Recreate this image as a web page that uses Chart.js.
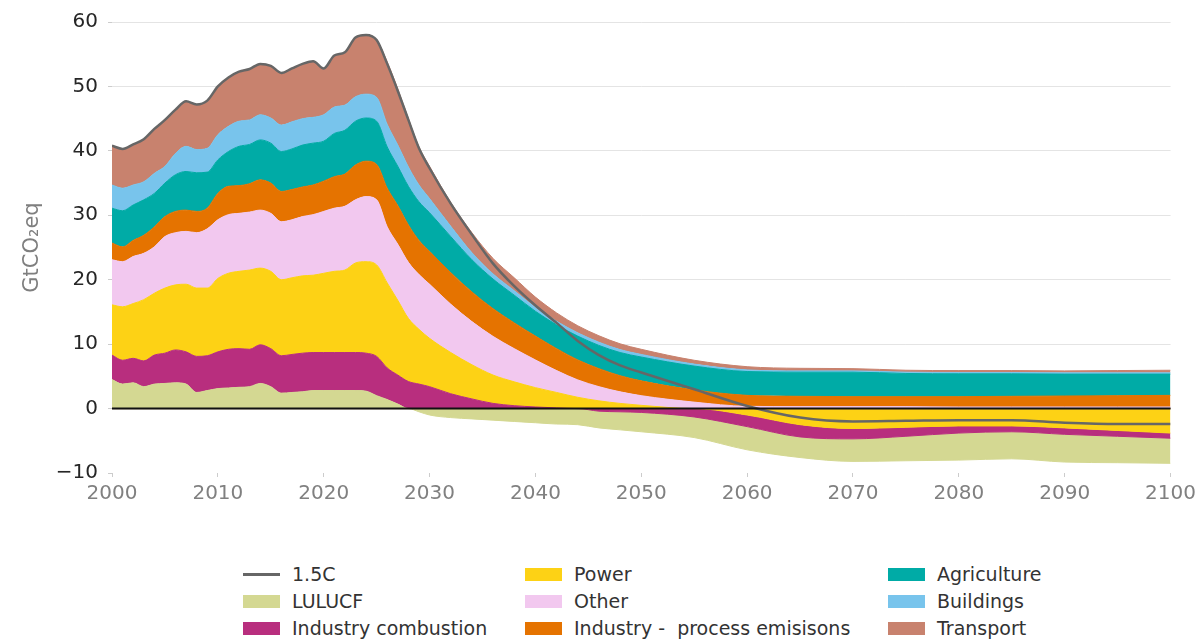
<!DOCTYPE html>
<html lang="en">
<head>
    <meta charset="UTF-8">
    <title>Emissions by sector</title>
    <style>
        body {
            margin: 0;
            background: #ffffff;
            font-family: "DejaVu Sans", sans-serif;
        }

        .wrap {
            position: relative;
            width: 1201px;
            height: 639px;
        }

        #chart {
            position: absolute;
            left: 0;
            top: 0;
        }

        .item {
            position: absolute;
            display: flex;
            align-items: center;
            height: 22px;
            font-size: 19px;
            color: #333333;
            white-space: pre;
        }

        .swatch {
            width: 37px;
            height: 13px;
            margin-right: 12px;
        }

        .line-swatch {
            width: 37px;
            height: 3px;
            margin-right: 12px;
            background: #666666;
        }
    </style>
</head>
<body>
    <div class="wrap">
        <canvas id="chart" width="1201" height="520"></canvas>
        <div id="legend"></div>
    </div>

    <script src="https://cdn.jsdelivr.net/npm/chart.js"></script>
    <script>
        // years: annual to 2030, then coarser
        const years = [
            2000, 2001, 2002, 2003, 2004, 2005, 2006, 2007, 2008, 2009,
            2010, 2011, 2012, 2013, 2014, 2015, 2016, 2017, 2018, 2019,
            2020, 2021, 2022, 2023, 2024, 2025, 2026, 2027, 2028, 2029, 2030,
            2032, 2034, 2036, 2038, 2040, 2042, 2044, 2046, 2048, 2050,
            2055, 2060, 2065, 2070, 2075, 2080, 2085, 2090, 2095, 2100
        ];

        // GtCO2eq per sector
        const lulucf = [
            4.5, 3.8, 4.0, 3.4, 3.8, 3.9, 4.0, 3.8, 2.5, 2.8,
            3.1, 3.2, 3.3, 3.4, 3.9, 3.4, 2.4, 2.5, 2.6, 2.8,
            2.8, 2.8, 2.8, 2.8, 2.7, 2.0, 1.4, 0.7, 0.0, -0.5, -1.0,
            -1.4, -1.6, -1.8, -2.0, -2.2, -2.4, -2.5, -2.6, -2.8, -3.0,
            -3.2, -3.6, -3.2, -3.5, -3.8, -4.2, -4.2, -4.3, -4.1, -3.9
        ];
        const indComb = [
            3.8, 3.7, 3.8, 4.0, 4.5, 4.7, 5.1, 5.0, 5.6, 5.4,
            5.7, 6.0, 6.0, 5.8, 6.0, 5.9, 5.8, 5.9, 6.0, 5.9,
            5.9, 5.9, 5.9, 5.9, 5.9, 6.1, 4.9, 4.5, 4.2, 3.8, 3.4,
            2.3, 1.5, 0.8, 0.45, 0.25, 0.1, 0.0, -0.4, -0.5, -0.6,
            -1.3, -1.8, -1.9, -1.6, -1.4, -1.1, -0.9, -1.0, -0.9, -0.8
        ];
        const power = [
            7.8, 8.3, 8.5, 9.5, 9.6, 10.1, 10.1, 10.5, 10.6, 10.5,
            11.4, 11.8, 12.0, 12.3, 11.9, 12.0, 11.8, 11.9, 12.0, 12.0,
            12.3, 12.6, 12.8, 13.9, 14.2, 14.2, 13.2, 11.6, 9.8, 8.5, 7.5,
            6.4, 5.3, 4.4, 3.7, 3.0, 2.4, 1.75, 1.2, 0.8, 0.5,
            0.0, -1.0, -2.5, -3.1, -2.9, -2.7, -2.7, -3.0, -3.4, -3.8
        ];
        const other = [
            7.0, 7.0, 7.3, 7.2, 7.2, 8.0, 8.1, 8.2, 8.6, 9.2,
            9.1, 9.1, 9.0, 9.0, 9.0, 9.0, 9.0, 9.0, 9.2, 9.4,
            9.6, 9.8, 9.9, 9.8, 10.1, 10.1, 8.7, 8.7, 8.7, 8.5, 8.4,
            7.5, 6.7, 6.0, 5.15, 4.3, 3.4, 2.7, 2.2, 1.8, 1.5,
            1.0, 0.35, 0.3, 0.3, 0.3, 0.25, 0.25, 0.25, 0.25, 0.25
        ];
        const indProc = [
            2.6, 2.3, 2.5, 2.8, 3.1, 3.1, 3.3, 3.3, 3.3, 3.2,
            4.1, 4.4, 4.3, 4.4, 4.7, 4.7, 4.7, 4.7, 4.6, 4.6,
            4.7, 4.9, 5.0, 5.4, 5.5, 5.5, 6.0, 6.0, 5.8, 5.3, 5.1,
            4.9, 4.6, 4.3, 4.0, 3.7, 3.4, 3.1, 2.8, 2.5, 2.3,
            1.9, 1.7, 1.6, 1.55, 1.55, 1.6, 1.65, 1.7, 1.75, 1.8
        ];
        const agriculture = [
            5.4, 5.6, 5.5, 5.5, 5.2, 5.2, 5.7, 6.0, 6.0, 5.6,
            5.2, 5.4, 6.1, 6.1, 6.2, 6.2, 6.2, 6.3, 6.5, 6.5,
            6.2, 6.7, 6.8, 6.8, 6.7, 6.7, 6.4, 6.1, 6.0, 6.0, 6.0,
            5.6, 5.0, 4.6, 4.3, 3.85, 3.7, 3.7, 3.6, 3.6, 3.7,
            3.7, 3.7, 3.75, 3.8, 3.6, 3.55, 3.5, 3.4, 3.35, 3.3
        ];
        const buildings = [
            3.6, 3.5, 3.1, 2.8, 3.1, 2.6, 3.3, 3.9, 3.6, 3.7,
            3.9, 3.9, 3.9, 3.8, 3.9, 3.9, 4.1, 4.2, 4.1, 4.0,
            4.1, 4.1, 3.9, 3.8, 3.7, 3.7, 3.5, 3.3, 3.0, 2.6, 2.2,
            1.6, 1.1, 0.8, 0.7, 0.6, 0.55, 0.5, 0.5, 0.45, 0.4,
            0.3, 0.25, 0.2, 0.2, 0.2, 0.2, 0.2, 0.2, 0.2, 0.2
        ];
        const transport = [
            6.1, 6.1, 6.3, 6.6, 6.9, 7.2, 6.8, 7.0, 7.0, 7.4,
            7.5, 7.6, 7.7, 7.9, 7.9, 8.1, 8.1, 8.3, 8.5, 8.7,
            7.2, 8.0, 8.2, 9.2, 9.2, 8.9, 9.7, 8.7, 7.5, 5.9, 5.0,
            3.7, 3.1, 2.4, 2.0, 1.6, 1.3, 1.1, 1.0, 0.9, 0.8,
            0.6, 0.5, 0.4, 0.35, 0.3, 0.3, 0.3, 0.3, 0.35, 0.4
        ];
        const pathway15 = [
            40.8, 40.3, 41.0, 41.8, 43.4, 44.8, 46.4, 47.7, 47.2, 47.8,
            50.0, 51.4, 52.3, 52.7, 53.5, 53.2, 52.1, 52.8, 53.5, 53.9,
            52.8, 54.8, 55.3, 57.6, 58.0, 57.2, 53.5, 49.3, 44.8, 40.4, 37.3,
            31.8, 27.0, 22.5, 19.0, 16.0, 13.3, 10.5, 8.3, 6.7, 5.6,
            3.0, 0.4, -1.4, -2.0, -1.9, -1.8, -1.8, -2.2, -2.4, -2.4
        ];

        const sectorNames = ['LULUCF', 'Industry combustion', 'Power', 'Other',
            'Industry -  process emisisons', 'Agriculture', 'Buildings', 'Transport'];
        const sectorColors = ['#d4d892', '#b82e7e', '#fdd215', '#f2c8ef',
            '#e57300', '#00aba6', '#78c4ec', '#c8826e'];
        const series = [lulucf, indComb, power, other, indProc, agriculture, buildings, transport];

        // positive parts stack upward, negative parts stack downward
        const datasets = [];
        let posBase = years.map(() => 0);
        series.forEach((vals, i) => {
            const top = vals.map((v, j) => posBase[j] + Math.max(v, 0));
            datasets.push({
                label: sectorNames[i],
                data: years.map((x, j) => ({ x: x, y: top[j] })),
                backgroundColor: sectorColors[i],
                borderColor: sectorColors[i],
                borderWidth: 1,
                fill: i === 0 ? 'origin' : datasets.length - 1,
                order: 1
            });
            posBase = top;
        });

        // below zero: power nearest the axis, then industry combustion, then LULUCF
        let negBase = years.map(() => 0);
        [2, 1, 0].forEach((si, k) => {
            const bottom = series[si].map((v, j) => negBase[j] + Math.min(v, 0));
            datasets.push({
                label: sectorNames[si] + ' (neg)',
                data: years.map((x, j) => ({ x: x, y: bottom[j] })),
                backgroundColor: sectorColors[si],
                borderColor: sectorColors[si],
                borderWidth: 1,
                fill: k === 0 ? 'origin' : datasets.length - 1,
                order: 1
            });
            negBase = bottom;
        });

        datasets.push({
            label: '1.5C',
            data: years.map((x, j) => ({ x: x, y: pathway15[j] })),
            borderColor: '#666666',
            borderWidth: 2.5,
            fill: false,
            order: 0
        });

        const zeroLine = {
            id: 'zeroLine',
            afterDatasetsDraw(chart) {
                const { ctx, chartArea, scales } = chart;
                const py = scales.y.getPixelForValue(0);
                ctx.save();
                ctx.strokeStyle = '#111111';
                ctx.lineWidth = 2;
                ctx.beginPath();
                ctx.moveTo(chartArea.left, py);
                ctx.lineTo(chartArea.right, py);
                ctx.stroke();
                ctx.restore();
            }
        };

        new Chart(document.getElementById('chart'), {
            type: 'line',
            data: { datasets: datasets },
            options: {
                responsive: false,
                animation: false,
                devicePixelRatio: 1,
                layout: { padding: { top: 22, right: 29, left: 0, bottom: 0 } },
                elements: {
                    point: { radius: 0 },
                    line: { cubicInterpolationMode: 'monotone' }
                },
                plugins: {
                    legend: { display: false },
                    tooltip: { enabled: false }
                },
                scales: {
                    x: {
                        type: 'linear',
                        min: 2000,
                        max: 2100,
                        afterFit(scale) { scale.height = 47; },
                        border: { display: false },
                        grid: {
                            drawOnChartArea: false,
                            drawTicks: true,
                            tickLength: 4,
                            tickColor: '#cccccc'
                        },
                        ticks: {
                            stepSize: 10,
                            color: '#808080',
                            padding: 5,
                            font: { family: 'DejaVu Sans', size: 20 },
                            callback: (v) => String(v)
                        }
                    },
                    y: {
                        min: -10,
                        max: 60,
                        afterFit(scale) { scale.width = 112; },
                        border: { display: false },
                        grid: {
                            color: (c) => (c.tick && c.tick.value > 0 ? '#e4e4e4' : 'rgba(0,0,0,0)'),
                            tickColor: '#cccccc',
                            tickLength: 4
                        },
                        ticks: {
                            stepSize: 10,
                            color: '#262626',
                            padding: 10,
                            font: { family: 'DejaVu Sans', size: 20 },
                            callback: (v) => (v < 0 ? '\u2212' + Math.abs(v) : String(v))
                        },
                        title: {
                            display: true,
                            text: 'GtCO\u2082eq',
                            color: '#7f7f7f',
                            padding: { top: 20, bottom: 0 },
                            font: { family: 'DejaVu Sans', size: 21 }
                        }
                    }
                }
            },
            plugins: [zeroLine]
        });

        // legend, laid out in three columns like the original
        const legendItems = [
            { name: '1.5C', line: true },
            { name: sectorNames[0], color: sectorColors[0] },
            { name: sectorNames[1], color: sectorColors[1] },
            { name: sectorNames[2], color: sectorColors[2] },
            { name: sectorNames[3], color: sectorColors[3] },
            { name: sectorNames[4], color: sectorColors[4] },
            { name: sectorNames[5], color: sectorColors[5] },
            { name: sectorNames[6], color: sectorColors[6] },
            { name: sectorNames[7], color: sectorColors[7] }
        ];
        const colX = [243, 525, 888];
        const rowY = [574, 601, 628];
        const legend = document.getElementById('legend');
        legendItems.forEach((it, i) => {
            const el = document.createElement('div');
            el.className = 'item';
            el.style.left = colX[Math.floor(i / 3)] + 'px';
            el.style.top = (rowY[i % 3] - 11) + 'px';
            const sw = document.createElement('span');
            if (it.line) {
                sw.className = 'line-swatch';
            } else {
                sw.className = 'swatch';
                sw.style.background = it.color;
            }
            const tx = document.createElement('span');
            tx.textContent = it.name;
            el.appendChild(sw);
            el.appendChild(tx);
            legend.appendChild(el);
        });
    </script>
</body>
</html>
